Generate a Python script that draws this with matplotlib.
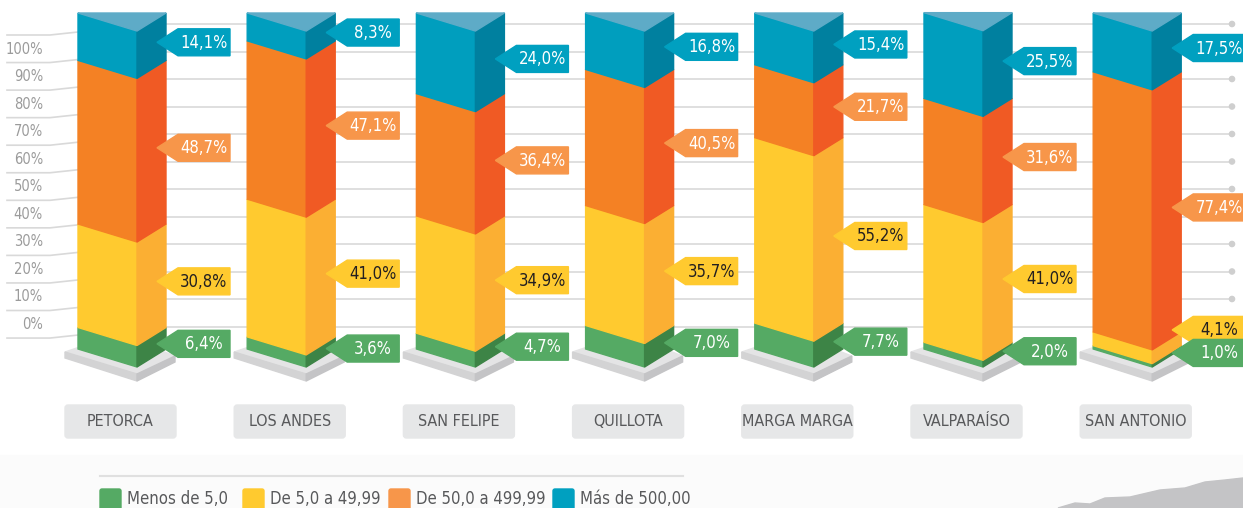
import matplotlib
matplotlib.use('Agg')
import matplotlib.pyplot as plt
from matplotlib.patches import Polygon, FancyBboxPatch, Circle, Rectangle

plt.rcParams['font.family'] = ['DejaVu Sans']
plt.rcParams['font.stretch'] = 'condensed'

# datos (porcentaje de explotaciones por tamaño, por provincia)
provincias = ['PETORCA', 'LOS ANDES', 'SAN FELIPE', 'QUILLOTA',
              'MARGA MARGA', 'VALPARAÍSO', 'SAN ANTONIO']
menos_5 = [6.4, 3.6, 4.7, 7.0, 7.7, 2.0, 1.0]
de_5_50 = [30.8, 41.0, 34.9, 35.7, 55.2, 41.0, 4.1]
de_50_500 = [48.7, 47.1, 36.4, 40.5, 21.7, 31.6, 77.4]
mas_500 = [14.1, 8.3, 24.0, 16.8, 15.4, 25.5, 17.5]
series_names = ['Menos de 5,0', 'De 5,0 a 49,99', 'De 50,0 a 499,99', 'Más de 500,00']
eje_labels = ['100%', '90%', '80%', '70%', '60%', '50%', '40%', '30%', '20%', '10%', '0%']

series = [menos_5, de_5_50, de_50_500, mas_500]
front_col = ['#55aa64', '#ffca2f', '#f48124', '#009ebe']
side_col = ['#3d8446', '#fbaf33', '#f05a24', '#00809f']
tag_col = ['#55aa64', '#ffca2f', '#f7964a', '#00a0c0']
txt_col = ['white', '#231f20', 'white', 'white']
top_col = '#5eabc7'

# geometria (pixeles)
X0, STEP = 78, 169.2
FW, SW, DROP = 59, 29, 18
YB, SC = 349, 3.36


def yv(v):
    return YB - v * SC


fig = plt.figure(figsize=(12.43, 5.08), dpi=100)
ax = fig.add_axes([0, 0, 1, 1])
ax.set_xlim(0, 1243)
ax.set_ylim(508, 0)
ax.axis('off')

# fondo inferior
ax.add_patch(Rectangle((0, 455), 1243, 60, color='#fbfbfb', zorder=0))
ax.add_patch(Polygon([(1058, 508), (1075, 503), (1090, 504), (1105, 498), (1130, 497),
                      (1160, 490), (1185, 488), (1205, 482), (1225, 480), (1243, 478),
                      (1243, 508)], closed=True, color='#c4c4c6', zorder=0))

# lineas de la izquierda con etiquetas
for k in range(12):
    y = 35 + 27.55 * k
    ax.plot([7, 50, X0], [y, y, y - 3], color='#d9d9d9', lw=1.2, zorder=1)
for k, lab in enumerate(eje_labels):
    ax.text(43, 35 + 27.55 * k + 14, lab, ha='right', va='center',
            fontsize=10.5, color='#9b9b9b', zorder=2)

# lineas entre barras
for k in range(12):
    y = 24 + 27.5 * k
    for i in range(len(provincias)):
        xr = X0 + STEP * i + FW + SW
        xe = X0 + STEP * (i + 1) if i < len(provincias) - 1 else 1232
        ax.plot([xr, xe], [y, y], color='#d9d9d9', lw=1.2, zorder=1)
    ax.add_patch(Circle((1232, y), 2.6, color='#cfcfcf', zorder=1))

for i, prov in enumerate(provincias):
    x = X0 + STEP * i

    # base
    ax.add_patch(Polygon([(x - 13, YB + 3), (x + 40, YB - 15), (x + 97, YB + 7),
                          (x + FW, YB + 25)], closed=True, color='#e4e4e5', zorder=2))
    ax.add_patch(Polygon([(x - 13, YB + 3), (x + FW, YB + 25), (x + FW, YB + 32),
                          (x - 13, YB + 9)], closed=True, color='#d3d3d4', zorder=2))
    ax.add_patch(Polygon([(x + FW, YB + 25), (x + 97, YB + 7), (x + 97, YB + 13),
                          (x + FW, YB + 32)], closed=True, color='#c4c4c6', zorder=2))

    # barra
    cum = 0
    centers = []
    for s in range(4):
        a, b = cum, cum + series[s][i]
        ax.add_patch(Polygon([(x, yv(b)), (x + FW, yv(b) + DROP), (x + FW, yv(a) + DROP),
                              (x, yv(a))], closed=True, color=front_col[s], zorder=3))
        ax.add_patch(Polygon([(x + FW, yv(b) + DROP), (x + FW + SW, yv(b)),
                              (x + FW + SW, yv(a)), (x + FW, yv(a) + DROP)],
                             closed=True, color=side_col[s], zorder=3))
        centers.append(yv((a + b) / 2) + 5.6)
        cum = b
    ax.add_patch(Polygon([(x, yv(cum)), (x + FW, yv(cum) + DROP), (x + FW + SW, yv(cum))],
                         closed=True, color=top_col, zorder=3))

    # etiquetas (separar si se tocan)
    for s in range(1, 4):
        if centers[s] > centers[s - 1] - 23:
            centers[s] = centers[s - 1] - 23
    px = x + 79
    for s in range(4):
        cy = centers[s]
        ax.add_patch(Polygon([(px, cy), (px + 21, cy - 13.5), (px + 73, cy - 13.5),
                              (px + 73, cy + 13.5), (px + 21, cy + 13.5)],
                             closed=True, color=tag_col[s], zorder=4 + (3 - s) * 0.1))
        ax.text(px + 47, cy + 0.5, ('%.1f%%' % series[s][i]).replace('.', ','),
                ha='center', va='center', fontsize=12, color=txt_col[s],
                zorder=4.05 + (3 - s) * 0.1)

    # caja con nombre
    bx = 65 + STEP * i
    ax.add_patch(FancyBboxPatch((bx + 2, 407), 107, 29, boxstyle='round,pad=2,rounding_size=3',
                                color='#e6e7e8', zorder=2))
    ax.text(bx + 55.5, 422, prov, ha='center', va='center', fontsize=11.5,
            color='#58595b', zorder=3)

# leyenda
ax.plot([100, 683], [476, 476], color='#e0e0e0', lw=1.5, zorder=1)
leg_x = [100, 243, 389, 553]
for s in range(4):
    ax.add_patch(FancyBboxPatch((leg_x[s] + 1, 490), 19, 19, boxstyle='round,pad=1,rounding_size=2',
                                color=tag_col[s], zorder=2))
    ax.text(leg_x[s] + 27, 499, series_names[s], ha='left', va='center',
            fontsize=12, color='#58595b', zorder=2)

fig.savefig('out.png', dpi=100)
